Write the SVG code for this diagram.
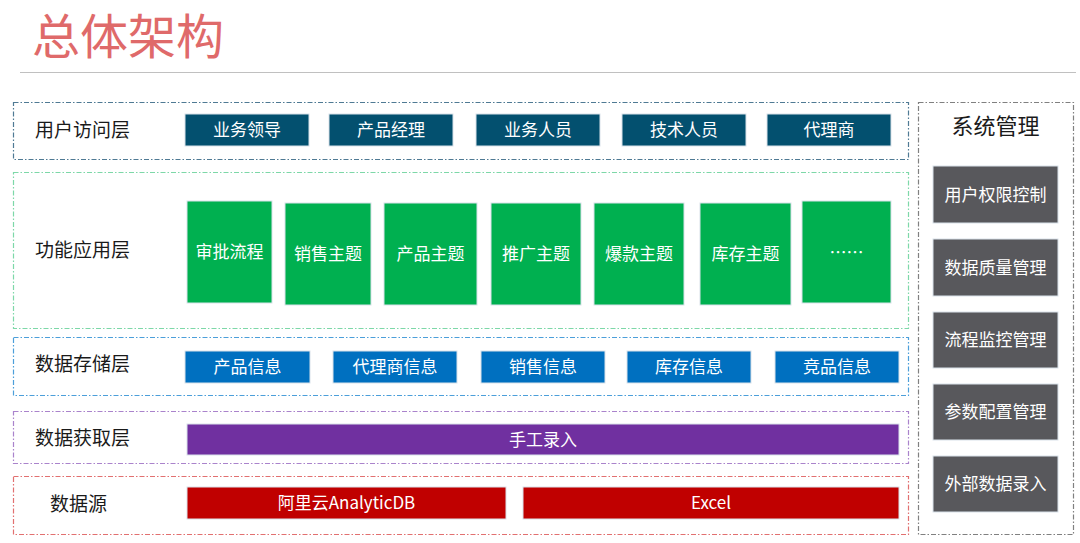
<svg xmlns="http://www.w3.org/2000/svg" width="1080" height="543" viewBox="0 0 1080 543">
<style>
text{font-family:"Microsoft YaHei","Noto Sans CJK SC","Noto Sans",sans-serif;}
.lbl{font-size:19px;fill:#1a1a1a;}
.nt{font-size:17px;fill:#ffffff;text-anchor:middle;dominant-baseline:central;}
.layer{fill:none;stroke-width:1.2;stroke-dasharray:5 2 1.5 2;}
.nb{stroke:#d9e2ea;stroke-width:1;}
.u{fill:#03506F;}
.g{fill:#00B050;}
.b{fill:#0070C0;}
.p{fill:#7030A0;}
.r{fill:#C00000;}
.s{fill:#58585C;}
</style>
<rect width="1080" height="543" fill="#ffffff"/>
<g id="title">
<text x="32" y="54" style="font-size:48px;fill:#DF6A6A;">总体架构</text>
<line x1="20" y1="72.5" x2="1076" y2="72.5" stroke="#c0c0c0" stroke-width="1.2"/>
</g>
<g id="layer-user">
<rect class="layer" x="13.5" y="102.5" width="895" height="57" stroke="#4F7A94"/>
<text class="lbl" x="35" y="137">用户访问层</text>
</g>
<g id="layer-func">
<rect class="layer" x="13.5" y="172.5" width="895" height="156" stroke="#7DD8A8"/>
<text class="lbl" x="35" y="257">功能应用层</text>
</g>
<g id="layer-store">
<rect class="layer" x="13.5" y="337.5" width="895" height="58" stroke="#4C9FDA"/>
<text class="lbl" x="35" y="371">数据存储层</text>
</g>
<g id="layer-acq">
<rect class="layer" x="13.5" y="411.5" width="895" height="52" stroke="#AA83CC"/>
<text class="lbl" x="35" y="445">数据获取层</text>
</g>
<g id="layer-src">
<rect class="layer" x="13.5" y="476.5" width="895" height="58" stroke="#E27070"/>
<text class="lbl" x="50" y="511">数据源</text>
</g>
<g id="layer-sys">
<rect class="layer" x="918.5" y="102.5" width="155" height="432" stroke="#808080"/>
<text x="995.5" y="134" style="font-size:22px;fill:#1a1a1a;text-anchor:middle;">系统管理</text>
</g>
<g id="n-u1"><rect class="u nb" x="185" y="114" width="124" height="32"/><text class="nt" x="247" y="128.5">业务领导</text></g>
<g id="n-u2"><rect class="u nb" x="329" y="114" width="124" height="32"/><text class="nt" x="391" y="128.5">产品经理</text></g>
<g id="n-u3"><rect class="u nb" x="476" y="114" width="124" height="32"/><text class="nt" x="538" y="128.5">业务人员</text></g>
<g id="n-u4"><rect class="u nb" x="622" y="114" width="124" height="32"/><text class="nt" x="684" y="128.5">技术人员</text></g>
<g id="n-u5"><rect class="u nb" x="767" y="114" width="124" height="32"/><text class="nt" x="829" y="128.5">代理商</text></g>
<g id="n-f1"><rect class="g nb" x="187" y="201" width="85" height="102"/><text class="nt" x="229.5" y="250">审批流程</text></g>
<g id="n-f2"><rect class="g nb" x="285" y="203" width="86" height="102"/><text class="nt" x="328" y="252.5">销售主题</text></g>
<g id="n-f3"><rect class="g nb" x="384" y="203" width="93" height="102"/><text class="nt" x="430.5" y="252.5">产品主题</text></g>
<g id="n-f4"><rect class="g nb" x="491" y="203" width="90" height="102"/><text class="nt" x="536" y="252.5">推广主题</text></g>
<g id="n-f5"><rect class="g nb" x="594" y="203" width="90" height="102"/><text class="nt" x="639" y="252.5">爆款主题</text></g>
<g id="n-f6"><rect class="g nb" x="700" y="203" width="91" height="102"/><text class="nt" x="745.5" y="252.5">库存主题</text></g>
<g id="n-f7"><rect class="g nb" x="802" y="201" width="89" height="102"/><text class="nt" x="846.5" y="251">……</text></g>
<g id="n-s1"><rect class="b nb" x="185" y="351" width="125" height="32"/><text class="nt" x="247.5" y="365.5">产品信息</text></g>
<g id="n-s2"><rect class="b nb" x="333" y="351" width="124" height="32"/><text class="nt" x="395" y="365.5">代理商信息</text></g>
<g id="n-s3"><rect class="b nb" x="481" y="351" width="124" height="32"/><text class="nt" x="543" y="365.5">销售信息</text></g>
<g id="n-s4"><rect class="b nb" x="627" y="351" width="124" height="32"/><text class="nt" x="689" y="365.5">库存信息</text></g>
<g id="n-s5"><rect class="b nb" x="775" y="351" width="124" height="32"/><text class="nt" x="837" y="365.5">竞品信息</text></g>
<g id="n-a1"><rect class="p nb" x="187" y="424" width="712" height="31"/><text class="nt" x="543" y="438">手工录入</text></g>
<g id="n-d1"><rect class="r nb" x="187" y="487" width="319" height="32"/><text class="nt" x="346.5" y="501.5">阿里云AnalyticDB</text></g>
<g id="n-d2"><rect class="r nb" x="523" y="487" width="376" height="32"/><text class="nt" x="711" y="501.5">Excel</text></g>
<g id="n-m1"><rect class="s nb" x="933" y="166" width="125" height="57"/><text class="nt" x="995.5" y="193">用户权限控制</text></g>
<g id="n-m2"><rect class="s nb" x="933" y="239" width="125" height="57"/><text class="nt" x="995.5" y="266">数据质量管理</text></g>
<g id="n-m3"><rect class="s nb" x="933" y="312" width="125" height="56"/><text class="nt" x="995.5" y="338.5">流程监控管理</text></g>
<g id="n-m4"><rect class="s nb" x="933" y="384" width="125" height="56"/><text class="nt" x="995.5" y="410.5">参数配置管理</text></g>
<g id="n-m5"><rect class="s nb" x="933" y="456" width="125" height="56"/><text class="nt" x="995.5" y="482.5">外部数据录入</text></g>
<g id="connectors"></g>
</svg>
